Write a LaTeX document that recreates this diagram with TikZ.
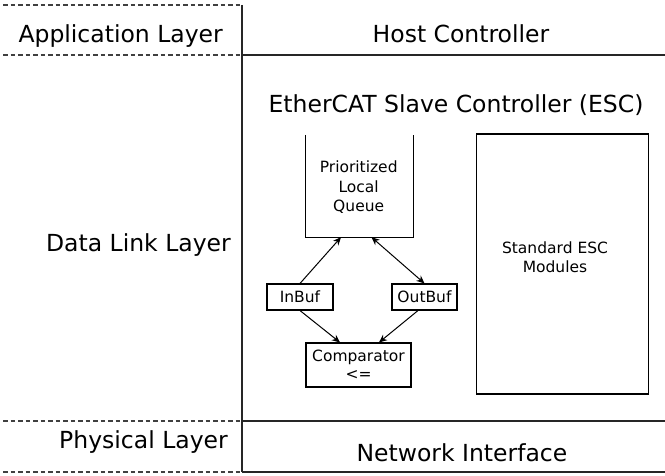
\documentclass[tikz,border=0pt]{standalone}
\usepackage{fontspec}
\setmainfont{DejaVu Sans}
\usetikzlibrary{arrows.meta}
\begin{document}
\begin{tikzpicture}[x=1pt,y=-1pt,
  big/.style={font=\fontsize{23.5}{28}\selectfont, inner sep=0},
  small/.style={font=\fontsize{15.5}{19.5}\selectfont, inner sep=0, align=center},
  box/.style={draw, line width=1.1pt, inner sep=0, font=\fontsize{15.5}{18}\selectfont, align=center},
  layer/.style={line width=1.2pt, black!85},
  sep/.style={dash pattern=on 4.5pt off 3pt, line width=1.2pt, black!75},
  tip/.tip={Stealth[length=8pt,width=7pt,inset=2.5pt]},
  arr/.style={line width=1pt, -tip},
  darr/.style={line width=1pt, tip-tip},
]
\useasboundingbox (0,0) rectangle (665,476);

% layer separators
\draw[sep] (3,5) -- (242,5);
\draw[sep] (3,55) -- (242,55);
\draw[sep] (3,421) -- (242,421);
\draw[sep] (3,472) -- (242,472);
\draw[layer] (242,5) -- (242,472);
\draw[layer] (242,55) -- (665,55);
\draw[layer] (242,421) -- (665,421);
\draw[layer] (242,472) -- (665,472);

% layer labels
\node[big, anchor=base east] (app) at (223,43) {Application Layer};
\node[big, anchor=base east] (dll) at (231,252) {Data Link Layer};
\node[big, anchor=base east] (phy) at (228,448) {Physical Layer};
\node[big, anchor=base] (host) at (461,43) {Host Controller};
\node[big, anchor=base] (esc) at (456,113) {EtherCAT Slave Controller (ESC)};
\node[big, anchor=base] (net) at (462,461) {Network Interface};

% queue (open top)
\node[minimum width=107pt, minimum height=102pt, inner sep=0] (queue) at (359.5,186) {};
\draw[line width=1.1pt] (queue.north west) -- (queue.south west) -- (queue.south east) -- (queue.north east);
\node[small, anchor=north] (qtext) at (358.7,161) {Prioritized\\Local\\Queue};

% buffers and comparator
\node[box, minimum width=66pt, minimum height=26pt] (inbuf) at (300,297) {InBuf};
\node[box, minimum width=65pt, minimum height=26pt] (outbuf) at (424.5,297) {OutBuf};
\node[box, minimum width=105pt, minimum height=44pt] (comp) at (358.5,365) {Comparator\\<=};

% standard modules
\node[draw, line width=1.1pt, minimum width=171.5pt, minimum height=260pt, inner sep=0] (std) at (562.5,264) {};
\node[small, anchor=north] (stdtext) at (555,241.5) {Standard ESC\\Modules};

% arrows
\draw[arr] (inbuf.north) -- ([xshift=-18.5pt]queue.south);
\draw[darr] ([xshift=12pt]queue.south) -- (outbuf.north);
\draw[arr] (inbuf.south) -- ([xshift=-18.5pt]comp.north);
\draw[arr] ([xshift=-6.5pt]outbuf.south) -- ([xshift=20.5pt]comp.north);
\end{tikzpicture}
\end{document}
